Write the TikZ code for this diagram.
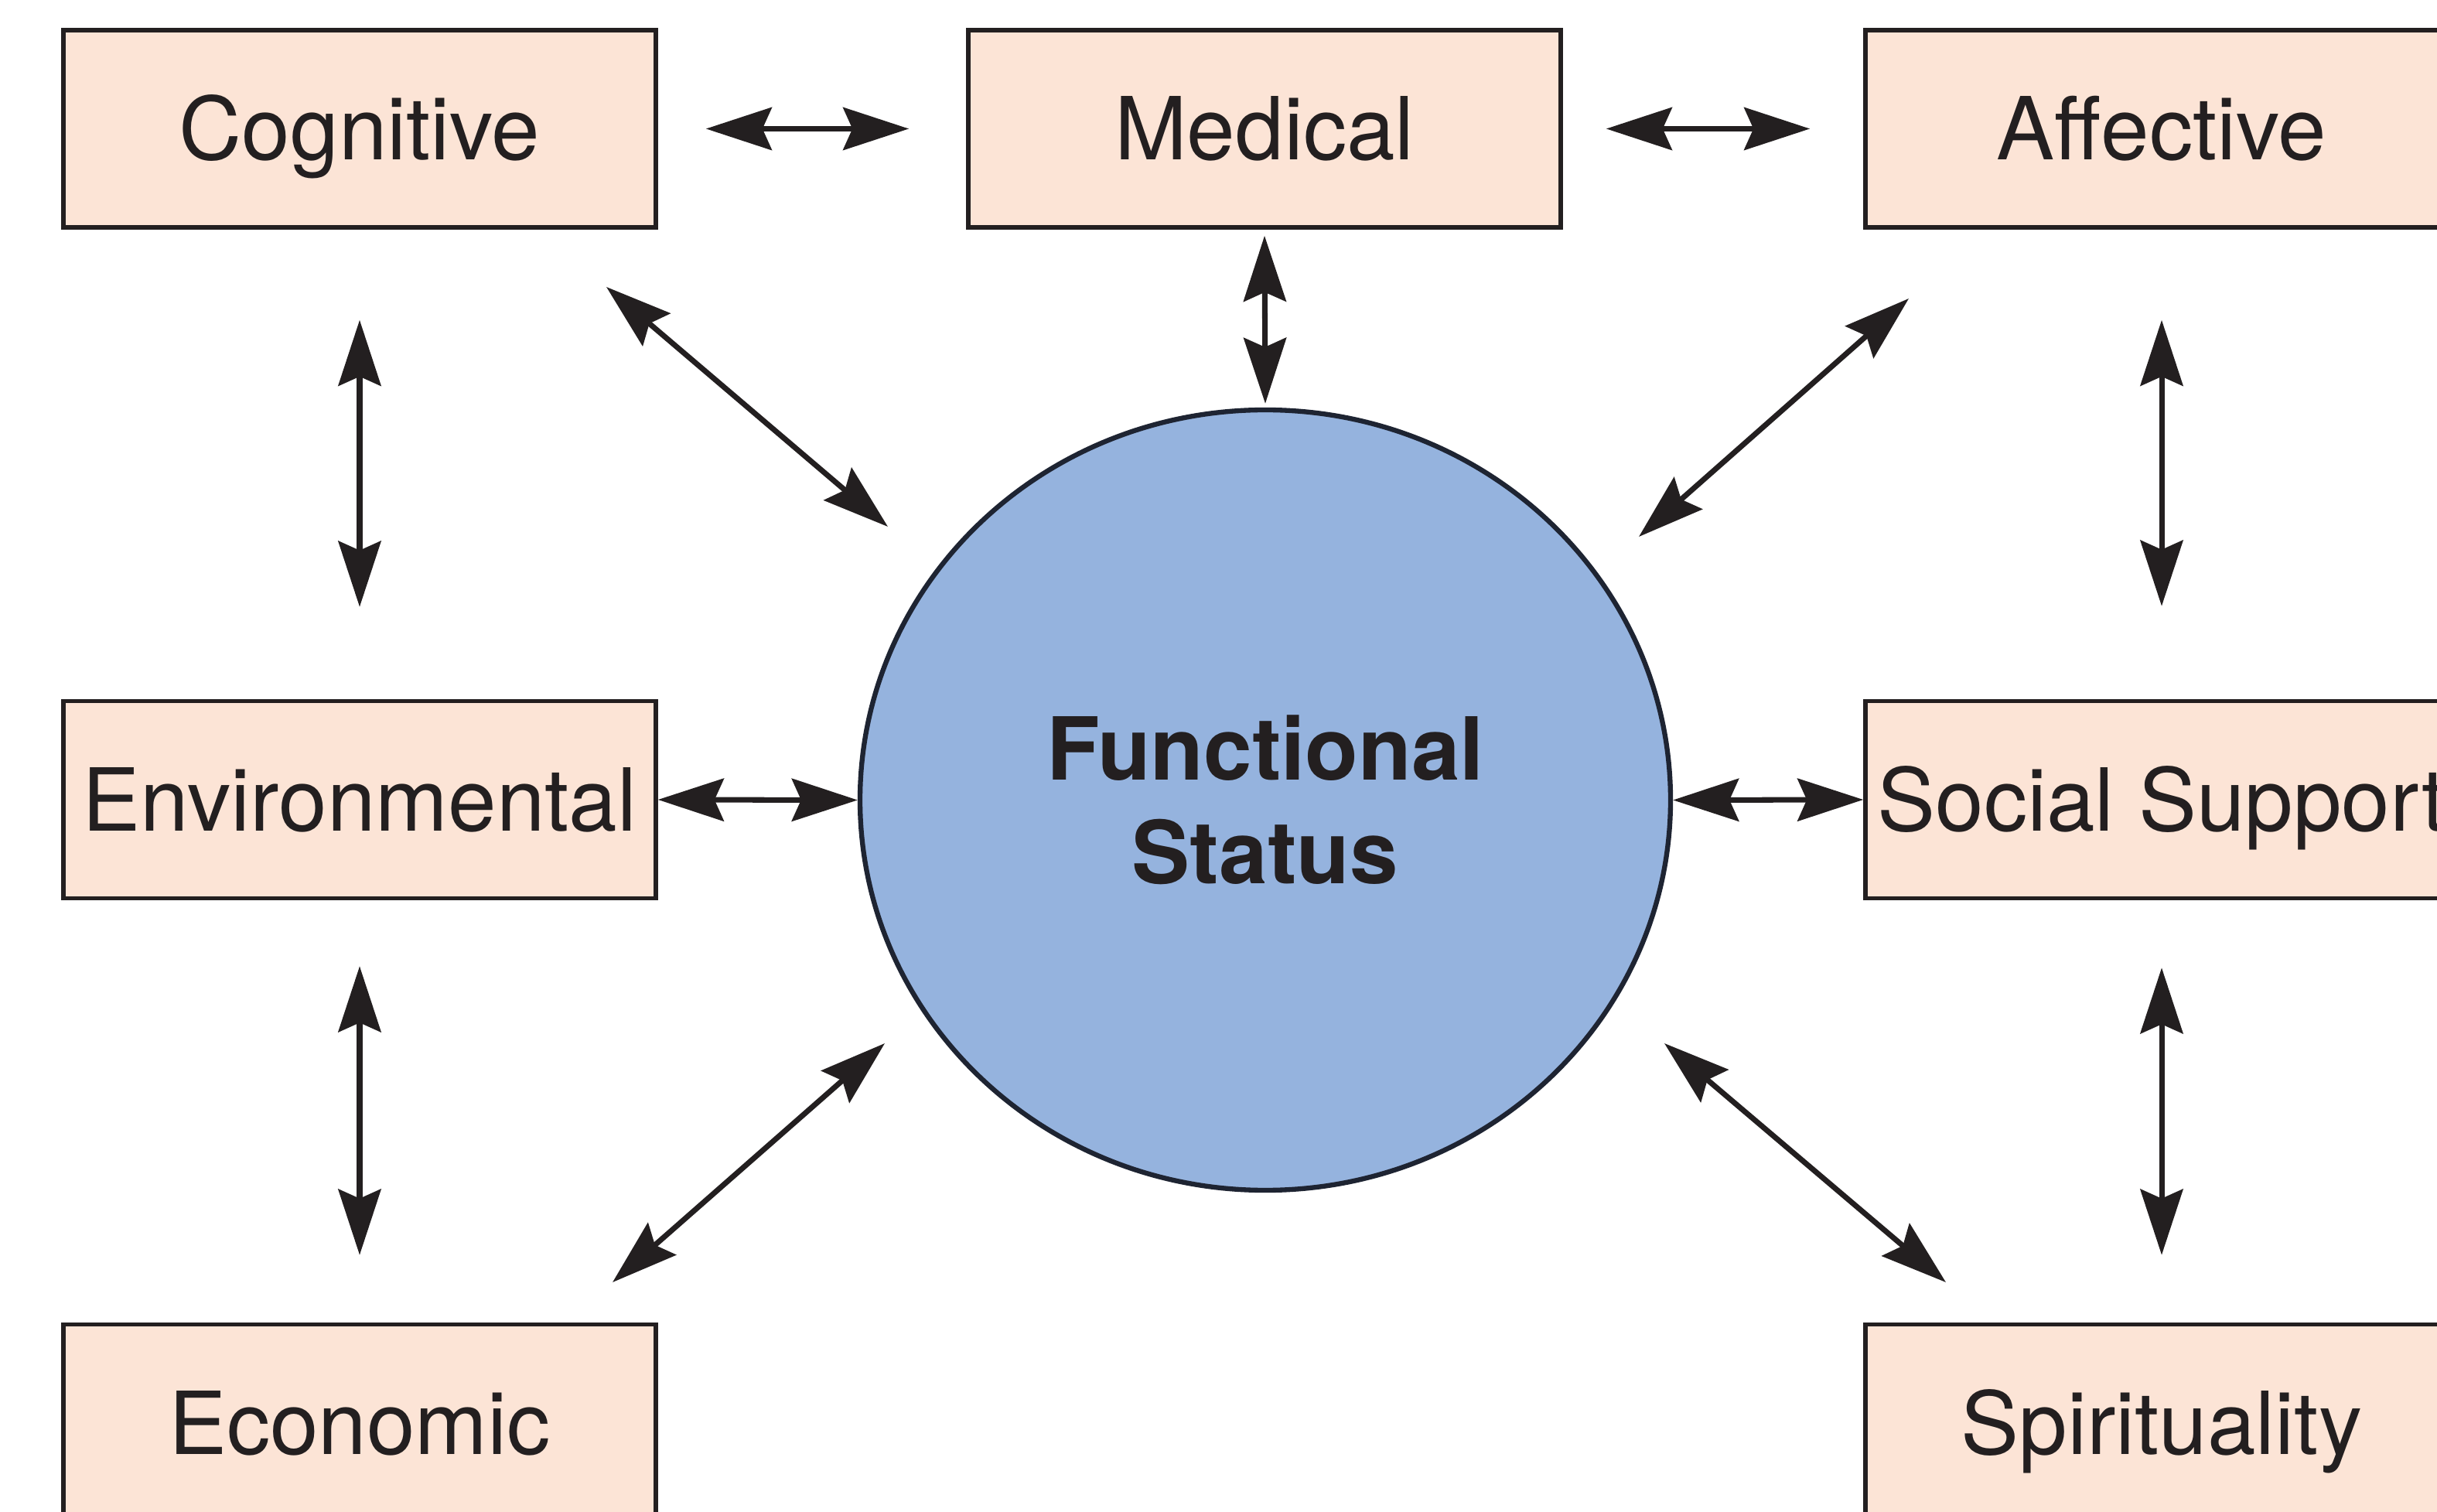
\documentclass[tikz,border=0pt]{standalone}
\usepackage{fontspec}
\setmainfont{TeX Gyre Heros}
\usetikzlibrary{arrows.meta,shapes.geometric}
\definecolor{peach}{RGB}{252,228,214}
\definecolor{fsblue}{RGB}{149,179,222}
\definecolor{ink}{RGB}{35,31,32}
\definecolor{rim}{RGB}{30,36,50}
\tikzset{>={Stealth[length=0.85cm,width=0.55cm,inset=0.12cm]}}
\tikzset{%
    factor/.style={draw=ink, line width=1.6pt, fill=peach, text=ink,%
        minimum width=7.66cm, minimum height=2.55cm, inner sep=0pt,%
        text height=23pt, text depth=0pt, font=\fontsize{32}{38}\selectfont},%
    core/.style={ellipse, draw=rim, line width=1.8pt, fill=fsblue, text=ink,%
        minimum width=10.48cm, minimum height=10.09cm, inner sep=0pt,%
        align=center, font=\fontsize{32}{38}\selectfont\bfseries},%
    link/.style={<->, draw=ink, line width=2pt}%
}

\begin{document}
\begin{tikzpicture}
      \useasboundingbox (0,0) rectangle (31.51,-19.55);
      \clip (0,0) rectangle (31.51,-19.55);
      \node[core] (fs) at (16.36,-10.345) {Functional\\Status};
      \node[factor] (cog) at (4.65,-1.665) {Cognitive};
      \node[factor] (med) at (16.35,-1.665) {Medical};
      \node[factor] (aff) at (27.95,-1.665) {Affective};
      \node[factor] (env) at (4.65,-10.34) {Environmental};
      \node[factor] (soc) at (27.95,-10.34) {Social Support};
      \node[factor] (eco) at (4.65,-18.40) {Economic};
      \node[factor] (spi) at (27.95,-18.40) {Spirituality};
      \coordinate (cog1) at (7.84,-3.71);
      \coordinate (cog2) at (11.48,-6.81);
      \coordinate (aff1) at (24.68,-3.86);
      \coordinate (aff2) at (21.19,-6.94);
      \coordinate (eco1) at (7.92,-16.58);
      \coordinate (eco2) at (11.44,-13.49);
      \coordinate (spi1) at (25.16,-16.58);
      \coordinate (spi2) at (21.52,-13.49);
      \draw[link, shorten <=0.62cm, shorten >=0.74cm] (cog.east) -- (med.west);
      \draw[link, shorten <=0.56cm, shorten >=0.69cm] (med.east) -- (aff.west);
      \draw[link, shorten <=0.08cm, shorten >=0.05cm] (med.south) -- (fs.north);
      \draw[link, shorten <=1.17cm, shorten >=1.19cm] (cog.south) -- (env.north);
      \draw[link, shorten <=1.17cm, shorten >=1.20cm] (aff.south) -- (soc.north);
      \draw[link] (env.east) -- (fs.west);
      \draw[link] (fs.east) -- (soc.west);
      \draw[link, shorten <=0.85cm, shorten >=0.87cm] (env.south) -- (eco.north);
      \draw[link, shorten <=0.87cm, shorten >=0.87cm] (soc.south) -- (spi.north);
      \draw[link] (cog1) -- (cog2);
      \draw[link] (aff1) -- (aff2);
      \draw[link] (eco1) -- (eco2);
      \draw[link] (spi1) -- (spi2);
\end{tikzpicture}
\end{document}
